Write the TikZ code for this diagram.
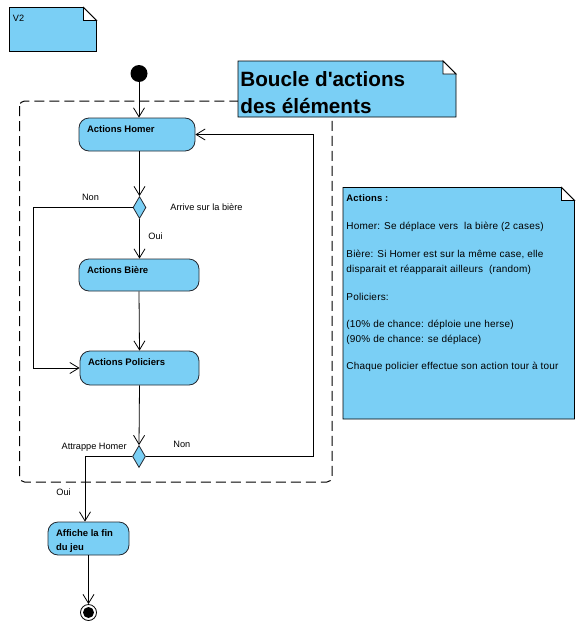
\documentclass[tikz,border=0pt]{standalone}
\usepackage{fontspec}
\setmainfont{Liberation Sans}
\newfontfamily\notefont{Liberation Sans}[LetterSpace=2]
\usetikzlibrary{arrows.meta,calc,shapes.geometric}
\definecolor{vpblue}{RGB}{122,207,245}
\definecolor{vpline}{RGB}{35,40,48}
\begin{document}
\begin{tikzpicture}[x=1pt,y=-1pt,
  line width=0.8pt,
  >={Straight Barb[length=9pt,width=11pt]},
  act/.style={draw=vpline, fill=vpblue, rounded corners=10pt, inner sep=0pt},
  acttxt/.style={anchor=base west, xshift=8pt, inner sep=0pt, font=\bfseries\fontsize{9.5}{11}\selectfont, text=black},
  decision/.style={diamond, draw=vpline, fill=vpblue, inner sep=0pt, minimum width=13pt, minimum height=22pt},
  lbl/.style={inner sep=0pt, font=\fontsize{9.2}{11}\selectfont},
  notetxt/.style={anchor=base west, inner sep=0pt, font=\notefont\fontsize{10}{12}\selectfont},
  notebox/.style={draw=black, fill=vpblue, line width=0.9pt},
  flap/.style={draw=black, fill=white, line width=0.9pt},
  flow/.style={draw=black, ->},
  frame/.style={draw=black, dash pattern=on 10pt off 5pt, rounded corners=5pt, line width=1pt}]
\useasboundingbox (0,0) rectangle (582,632);

% V2 note
\path[notebox] (9.5,7.5) -- (83.5,7.5) -- (96.5,20.5) -- (96.5,51.5) -- (9.5,51.5) -- cycle;
\path[flap] (83.5,7.5) -- (83.5,20.5) -- (96.5,20.5) -- cycle;
\node[lbl, anchor=base west] (v2) at (12.5,21) {V2};

% dashed frame
\draw[frame] (19.5,101) rectangle (332,482);

% nodes
\node[circle, fill=black, minimum size=17pt, inner sep=0pt] (init) at (139,73.5) {};
\node[act, minimum width=116pt, minimum height=33pt,
  label={[acttxt, yshift=-14.5pt]north west:Actions Homer}] (homer) at (137,134.5) {};
\node[decision] (d1) at (139.5,207.5) {};
\node[act, minimum width=120pt, minimum height=32pt,
  label={[acttxt, yshift=-14.5pt]north west:Actions Bière}] (biere) at (139,275) {};
\node[act, minimum width=119pt, minimum height=34pt,
  label={[acttxt, yshift=-14.5pt]north west:Actions Policiers}] (police) at (139.5,368) {};
\node[decision] (d2) at (139,456.5) {};
\node[act, minimum width=81pt, minimum height=33pt,
  label={[acttxt, yshift=-14.5pt]north west:Affiche la fin},
  label={[acttxt, yshift=-28.5pt]north west:du jeu}] (fin) at (88.5,538.5) {};
\node[circle, draw=black, fill=white, minimum size=16pt, inner sep=0pt] (final) at (88.5,612.5) {};
\fill[black] (final.center) circle (5.5pt);

% connectors
\coordinate (nonL) at (33,207.5);
\coordinate (nonR) at (313,456.5);
\coordinate (ouiL) at (85,456.5);
\draw[flow] (init) -- (init |- homer.north);
\draw[flow] (d1.north |- homer.south) -- (d1.north);
\draw[flow] (d1.south) -- (d1.south |- biere.north);
\draw[flow] (biere.south) -- (police.north);
\draw[flow] (d1.west) -- (nonL) |- (police.west);
\draw[flow] (police.south) -- (d2.north);
\draw[flow] (d2.east) -- (nonR) |- (homer.east);
\draw[flow] (d2.west) -- (ouiL) -- (ouiL |- fin.north);
\draw[flow] (final |- fin.south) -- (final.north);

% connector labels
\node[lbl] (lnon1) at (90.5,197.5) {Non};
\node[lbl, anchor=west] (larrive) at (170,207.5) {Arrive sur la bière};
\node[lbl, anchor=west] (loui1) at (148,236) {Oui};
\node[lbl, anchor=east] (latt) at (127,447) {Attrappe Homer};
\node[lbl, anchor=west] (lnon2) at (173,444) {Non};
\node[lbl, anchor=west] (loui2) at (56,492.5) {Oui};

% title note
\path[notebox] (238,61) -- (443,61) -- (456,74) -- (456,117) -- (238,117) -- cycle;
\path[flap] (443,61) -- (443,74) -- (456,74) -- cycle;
\node[anchor=base west, inner sep=0pt, font=\bfseries\fontsize{20.7}{24}\selectfont] (t1) at (240,86) {Boucle d\textquotesingle actions};
\node[anchor=base west, inner sep=0pt, font=\bfseries\fontsize{20.7}{24}\selectfont] (t2) at (240,113) {des éléments};

% actions note
\path[notebox] (343,187.5) -- (561.5,187.5) -- (574.5,200.5) -- (574.5,419) -- (343,419) -- cycle;
\path[flap] (561.5,187.5) -- (561.5,200.5) -- (574.5,200.5) -- cycle;
\node[notetxt, font=\notefont\bfseries\fontsize{9.5}{11}\selectfont] (n1) at (346,201.5) {Actions :};
\node[notetxt] (n2) at (346,229.5) {Homer: Se déplace vers\ \ la bière (2 cases)};
\node[notetxt] (n3) at (346,257.5) {Bière: Si Homer est sur la même case, elle};
\node[notetxt] (n4) at (346,272) {disparait et réapparait ailleurs\ \ (random)};
\node[notetxt] (n5) at (346,300) {Policiers:};
\node[notetxt] (n6) at (346,327.5) {(10\% de chance: déploie une herse)};
\node[notetxt] (n7) at (346,342) {(90\% de chance: se déplace)};
\node[notetxt] (n8) at (346,369.5) {Chaque policier effectue son action tour à tour};
\end{tikzpicture}
\end{document}
